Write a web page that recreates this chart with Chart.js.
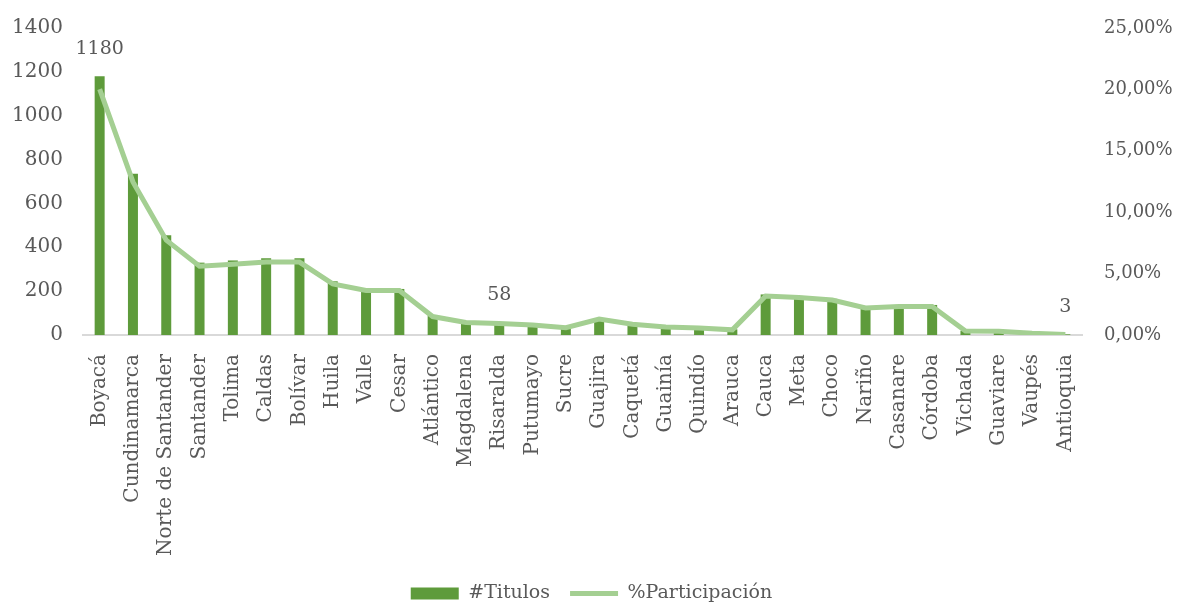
<!DOCTYPE html>
<html>
<head>
<meta charset="utf-8">
<script src="https://cdn.jsdelivr.net/npm/chart.js@4.4.0/dist/chart.umd.min.js"></script>
<style>
  html, body { margin: 0; padding: 0; background: #fff; }
  #wrap { width: 1183px; height: 605px; }
</style>
</head>
<body>
<div id="wrap"><canvas id="titulos"></canvas></div>
<script>
var labels = ['Boyacá', 'Cundinamarca', 'Norte de Santander', 'Santander', 'Tolima', 'Caldas', 'Bolívar', 'Huila', 'Valle', 'Cesar',
  'Atlántico', 'Magdalena', 'Risaralda', 'Putumayo', 'Sucre', 'Guajira', 'Caquetá', 'Guainía', 'Quindío', 'Arauca',
  'Cauca', 'Meta', 'Choco', 'Nariño', 'Casanare', 'Córdoba', 'Vichada', 'Guaviare', 'Vaupés', 'Antioquia'];
var titulos = [1180, 735, 455, 330, 340, 350, 350, 245, 210, 210,
  88, 60, 58, 50, 37, 75, 52, 40, 35, 26,
  185, 178, 165, 128, 137, 137, 19, 18, 8, 3];
var participacion = [20.02, 12.47, 7.72, 5.60, 5.77, 5.94, 5.94, 4.16, 3.62, 3.62,
  1.50, 1.02, 0.94, 0.82, 0.60, 1.30, 0.88, 0.66, 0.57, 0.42,
  3.18, 3.05, 2.85, 2.20, 2.32, 2.32, 0.32, 0.31, 0.14, 0.05];
var leftTicks = [0, 200, 400, 600, 800, 1000, 1200, 1400];
var rightTicks = [0, 5, 10, 15, 20, 25];
var labeledBars = [0, 12, 29];

var font = 'DejaVu Serif';
var textColor = '#595959';

var barLabels = {
  id: 'barLabels',
  afterDatasetsDraw: function (chart) {
    var ctx = chart.ctx;
    var meta = chart.getDatasetMeta(0);
    ctx.save();
    ctx.font = '19px "' + font + '"';
    ctx.fillStyle = textColor;
    ctx.textAlign = 'center';
    ctx.textBaseline = 'middle';
    labeledBars.forEach(function (i) {
      var bar = meta.data[i];
      ctx.fillText(String(titulos[i]), bar.x, bar.y - 27);
    });
    ctx.restore();
  }
};

new Chart(document.getElementById('titulos').getContext('2d'), {
  type: 'bar',
  data: {
    labels: labels,
    datasets: [{
      label: '#Titulos',
      data: titulos,
      backgroundColor: '#5E9B3B',
      borderWidth: 0,
      barPercentage: 0.3,
      categoryPercentage: 1,
      yAxisID: 'y',
      order: 1,
      pointStyle: 'rect'
    }, {
      type: 'line',
      label: '%Participación',
      data: participacion,
      borderColor: '#A4CF92',
      backgroundColor: '#A4CF92',
      borderWidth: 5,
      pointRadius: 0,
      tension: 0,
      yAxisID: 'y1',
      order: 0,
      pointStyle: 'line'
    }]
  },
  options: {
    responsive: true,
    maintainAspectRatio: false,
    animation: false,
    layout: { padding: { top: 28, left: 0, right: 0, bottom: -8 } },
    scales: {
      x: {
        grid: { display: false },
        border: { color: '#D9D9D9', width: 2 },
        afterFit: function (axis) { axis.height = 229; },
        ticks: {
          color: textColor,
          font: { family: font, size: 20 },
          minRotation: 90,
          maxRotation: 90,
          autoSkip: false,
          padding: 11
        }
      },
      y: {
        position: 'left',
        min: 0,
        max: 1400,
        afterBuildTicks: function (axis) {
          axis.ticks = leftTicks.map(function (v) { return { value: v }; });
        },
        afterFit: function (axis) { axis.width = 83; },
        grid: { display: false },
        border: { display: false },
        ticks: {
          color: textColor,
          font: { family: font, size: 20 },
          padding: 12,
          callback: function (v) { return String(v); }
        }
      },
      y1: {
        position: 'right',
        min: 0,
        max: 25,
        afterBuildTicks: function (axis) {
          axis.ticks = rightTicks.map(function (v) { return { value: v }; });
        },
        afterFit: function (axis) { axis.width = 101; },
        grid: { display: false },
        border: { display: false },
        ticks: {
          color: textColor,
          font: { family: font, size: 18 },
          padding: 14,
          callback: function (v) { return v.toFixed(2).replace('.', ',') + '%'; }
        }
      }
    },
    plugins: {
      tooltip: { enabled: false },
      legend: {
        position: 'bottom',
        labels: {
          color: textColor,
          font: { family: font, size: 19 },
          usePointStyle: true,
          pointStyleWidth: 48,
          boxHeight: 12,
          padding: 20,
          sort: function (a, b) { return a.datasetIndex - b.datasetIndex; }
        }
      }
    }
  },
  plugins: [barLabels]
});
</script>
</body>
</html>
